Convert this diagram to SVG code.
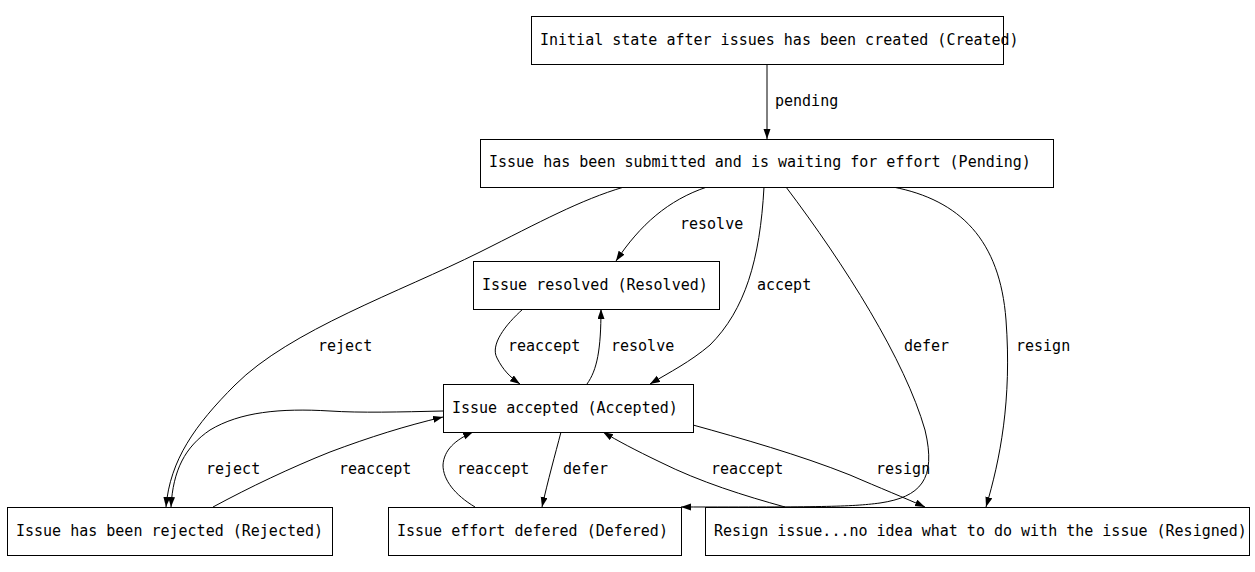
<svg xmlns="http://www.w3.org/2000/svg" width="1255" height="572" viewBox="0 0 1255 572">
<defs>
<marker id="arr" markerUnits="userSpaceOnUse" markerWidth="12" markerHeight="9" refX="10" refY="3.5" orient="auto">
<path d="M0,0 L10,3.5 L0,7 z" fill="#000"/>
</marker>
<style>
.box{fill:#fff;stroke:#000;stroke-width:1}
.t{font-family:"DejaVu Sans Mono","Liberation Mono",monospace;font-size:15px;fill:#000}
.e{fill:none;stroke:#000;stroke-width:1;marker-end:url(#arr)}
</style>
</defs>
<rect width="1255" height="572" fill="#fff"/>
<g id="edges">
<path class="e" d="M767,64 L767,139"/>
<path class="e" d="M624,187 C580,200 540,222 480,252 C400,292 290,330 235,385 C195,425 170,460 166,507"/>
<path class="e" d="M707,187 C668,200 640,225 616,261"/>
<path class="e" d="M764,187 C760,260 745,310 710,345 C690,362 670,372 650,384"/>
<path class="e" d="M786,187 C845,265 905,360 925,430 C937,480 920,497 880,503 C850,507 820,507 681,507"/>
<path class="e" d="M893,187 C960,200 1000,240 1006,320 C1012,400 1000,460 986,507"/>
<path class="e" d="M523,309 C505,325 490,345 497,358 C503,370 510,377 520,384"/>
<path class="e" d="M587,384 C597,370 601,350 601,309"/>
<path class="e" d="M443,411 C400,412 360,413 330,411 C280,408 240,412 210,430 C185,447 173,470 171,507"/>
<path class="e" d="M213,507 C250,487 290,468 330,452 C370,437 405,426 443,417"/>
<path class="e" d="M475,507 C455,495 443,480 443,465 C444,450 455,440 473,432"/>
<path class="e" d="M561,432 C555,455 548,480 542,507"/>
<path class="e" d="M785,507 C745,496 700,482 660,462 C635,450 618,441 603,432"/>
<path class="e" d="M693,425 C740,438 800,455 850,475 C880,488 905,498 925,507"/>
<text class="t" x="775" y="106">pending</text>
<text class="t" x="680" y="229">resolve</text>
<text class="t" x="757" y="290">accept</text>
<text class="t" x="318" y="351">reject</text>
<text class="t" x="904" y="351">defer</text>
<text class="t" x="1016" y="351">resign</text>
<text class="t" x="508" y="351">reaccept</text>
<text class="t" x="611" y="351">resolve</text>
<text class="t" x="206" y="474">reject</text>
<text class="t" x="339" y="474">reaccept</text>
<text class="t" x="457" y="474">reaccept</text>
<text class="t" x="563" y="474">defer</text>
<text class="t" x="711" y="474">reaccept</text>
<text class="t" x="876" y="474">resign</text>
</g>
<g id="created">
<rect class="box" x="531.5" y="16.5" width="472" height="48"/>
<text class="t" x="540" y="45">Initial state after issues has been created (Created)</text>
</g>
<g id="pending">
<rect class="box" x="480.5" y="139.5" width="573" height="48"/>
<text class="t" x="489" y="167">Issue has been submitted and is waiting for effort (Pending)</text>
</g>
<g id="resolved">
<rect class="box" x="473.5" y="261.5" width="246" height="48"/>
<text class="t" x="482" y="290">Issue resolved (Resolved)</text>
</g>
<g id="accepted">
<rect class="box" x="443.5" y="384.5" width="250" height="48"/>
<text class="t" x="452" y="413">Issue accepted (Accepted)</text>
</g>
<g id="rejected">
<rect class="box" x="7.5" y="507.5" width="325" height="48"/>
<text class="t" x="16" y="536">Issue has been rejected (Rejected)</text>
</g>
<g id="defered">
<rect class="box" x="388.5" y="507.5" width="293" height="48"/>
<text class="t" x="397" y="536">Issue effort defered (Defered)</text>
</g>
<g id="resigned">
<rect class="box" x="705.5" y="507.5" width="544" height="48"/>
<text class="t" x="714" y="536">Resign issue...no idea what to do with the issue (Resigned)</text>
</g>
</svg>
